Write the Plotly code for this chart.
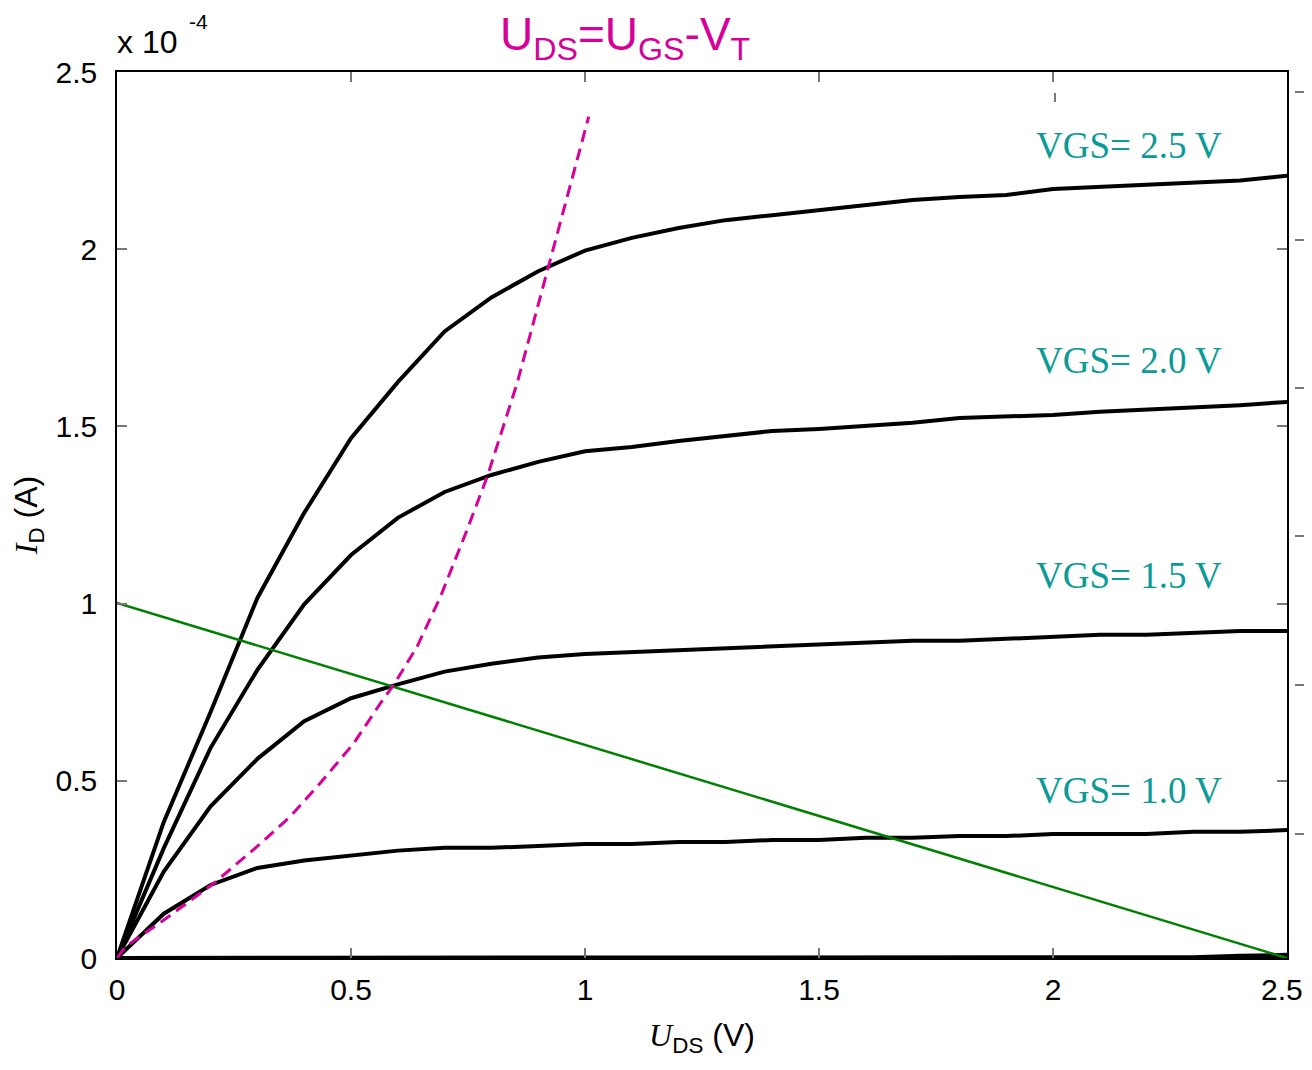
import plotly.graph_objects as go

# ---------------- data ----------------
u_ds = [0.0, 0.1, 0.2, 0.3, 0.4, 0.5, 0.6, 0.7, 0.8, 0.9, 1.0, 1.1, 1.2,
        1.3, 1.4, 1.5, 1.6, 1.7, 1.8, 1.9, 2.0, 2.1, 2.2, 2.3, 2.4, 2.5]

# drain current in units of 1e-4 A
id_vgs25 = [0.0, 0.384, 0.694, 1.016, 1.256, 1.467, 1.625, 1.768, 1.864, 1.938, 1.996,
            2.032, 2.060, 2.082, 2.096, 2.111, 2.125, 2.139, 2.147, 2.153, 2.170,
            2.176, 2.182, 2.188, 2.194, 2.207]
id_vgs20 = [0.0, 0.310, 0.593, 0.813, 0.998, 1.137, 1.242, 1.315, 1.363, 1.400, 1.430,
            1.442, 1.459, 1.473, 1.487, 1.493, 1.501, 1.510, 1.524, 1.529, 1.532,
            1.541, 1.547, 1.552, 1.560, 1.569]
id_vgs15 = [0.0, 0.244, 0.428, 0.562, 0.668, 0.733, 0.772, 0.808, 0.830, 0.848, 0.858,
            0.863, 0.868, 0.873, 0.878, 0.883, 0.889, 0.895, 0.895, 0.900, 0.906,
            0.912, 0.912, 0.917, 0.923, 0.923]
id_vgs10 = [0.0, 0.125, 0.206, 0.254, 0.275, 0.289, 0.303, 0.311, 0.311, 0.316, 0.322,
            0.322, 0.327, 0.327, 0.333, 0.333, 0.339, 0.339, 0.344, 0.344, 0.350,
            0.350, 0.350, 0.356, 0.356, 0.361]
id_vgs05 = [0.0, 0.001, 0.001, 0.001, 0.001, 0.001, 0.001, 0.001, 0.001, 0.001, 0.001,
            0.001, 0.001, 0.001, 0.001, 0.001, 0.001, 0.001, 0.001, 0.001, 0.001,
            0.001, 0.001, 0.002, 0.006, 0.009]
id_vgs00 = [0.0] * 26

# saturation boundary U_DS = U_GS - V_T (dashed)
sat_u = [0.0, 0.018, 0.100, 0.207, 0.299, 0.370, 0.434, 0.506, 0.563, 0.591, 0.641,
         0.691, 0.748, 0.791, 0.855, 0.922, 0.969, 1.008]
sat_i = [0.0, 0.032, 0.107, 0.211, 0.314, 0.399, 0.493, 0.606, 0.719, 0.770, 0.878,
         1.019, 1.208, 1.358, 1.622, 1.951, 2.186, 2.374]

# load line
load_u = [0.0, 2.5]
load_i = [1.002, 0.0]

curve_labels = ["VGS= 2.5 V", "VGS= 2.0 V", "VGS= 1.5 V", "VGS= 1.0 V"]
label_x = [2.162, 2.162, 2.162, 2.162]
label_y = [2.294, 1.687, 1.078, 0.474]

x_ticks = [0, 0.5, 1, 1.5, 2, 2.5]
x_ticktext = ["0", "0.5", "1", "1.5", "2", "2.5"]
y_ticks = [0, 0.5, 1, 1.5, 2, 2.5]
y_ticktext = ["0", "0.5", "1", "1.5", "2", "2.5"]

SCALE = 1e-4

# ---------------- geometry (figure px; page adds an 8px body margin) ----------------
OFF = 8
FW, FH = 1304, 1050
L, T, B = 117 - OFF, 72 - OFF, 958 - OFF     # plot left / top / bottom in figure px
PR = 1287 - OFF                               # plot right
PAPER_R = 1306 - OFF                          # paper right (ghost axis)
PW = PAPER_R - L
PH = B - T


def px(x_img):
    return (x_img - OFF - L) / PW


def py(y_img):
    return (B - (y_img - OFF)) / PH


fig = go.Figure()

for series in [id_vgs00, id_vgs05, id_vgs10, id_vgs15, id_vgs20, id_vgs25]:
    fig.add_trace(go.Scatter(
        x=u_ds, y=[v * SCALE for v in series], mode="lines",
        line=dict(color="black", width=4), showlegend=False, hoverinfo="skip"))

fig.add_trace(go.Scatter(
    x=load_u, y=[v * SCALE for v in load_i], mode="lines",
    line=dict(color="#008000", width=2.5), showlegend=False))

fig.add_trace(go.Scatter(
    x=sat_u, y=[v * SCALE for v in sat_i], mode="lines",
    line=dict(color="#D6009A", width=3, dash="12px,7px"), showlegend=False))

for txt, lx, ly in zip(curve_labels, label_x, label_y):
    fig.add_annotation(x=lx, y=ly * SCALE, text=txt, showarrow=False,
                       xref="x", yref="y", xanchor="center", yanchor="middle",
                       font=dict(family="Liberation Serif", size=37, color="#0A9A98"))

fig.add_annotation(x=px(625), y=py(38), xref="paper", yref="paper",
                   xanchor="center", yanchor="middle",
                   text="U<sub>DS</sub>=U<sub>GS</sub>-V<sub>T</sub>", showarrow=False,
                   font=dict(family="Liberation Sans", size=46, color="#D6009A"))

fig.add_annotation(x=px(115), y=py(42), xref="paper", yref="paper",
                   xanchor="left", yanchor="middle",
                   text="x 10", showarrow=False,
                   font=dict(family="Liberation Sans", size=32, color="black"))
fig.add_annotation(x=px(188), y=py(8.5), xref="paper", yref="paper",
                   xanchor="left", yanchor="top", borderpad=0,
                   text="-4", showarrow=False,
                   font=dict(family="Liberation Sans", size=21, color="black"))

tick_font = dict(family="Liberation Sans", size=30, color="black")

# last x tick label sits at the right edge: draw it right-aligned so it is not clipped
x_ticktext_axis = x_ticktext[:-1] + [""]
fig.add_annotation(x=x_ticks[-1], y=py(990), xref="x", yref="paper",
                   xanchor="right", yanchor="middle", xshift=17, borderpad=0,
                   text=x_ticktext[-1], showarrow=False, font=tick_font)

fig.update_layout(
    width=FW, height=FH,
    margin=dict(l=L, r=FW - PAPER_R, t=T, b=FH - B, autoexpand=False),
    paper_bgcolor="white", plot_bgcolor="white",
    xaxis=dict(
        domain=[0, (PR - L) / PW], range=[0, 2.5],
        tickvals=x_ticks, ticktext=x_ticktext_axis, tickfont=tick_font,
        ticks="inside", ticklen=10, tickcolor="#777777", tickwidth=1.5,
        ticklabelstandoff=4,
        showline=True, linecolor="black", linewidth=1.5, mirror="ticks",
        showgrid=False, zeroline=False, automargin=False,
        title=dict(
            text="<span style='font-family:Liberation Serif'><i>U</i></span><sub>DS</sub> (V)",
            font=dict(family="Liberation Sans", size=32, color="black"), standoff=20),
    ),
    yaxis=dict(
        domain=[0, 1], range=[0, 2.5 * SCALE],
        tickvals=[v * SCALE for v in y_ticks], ticktext=y_ticktext, tickfont=tick_font,
        ticks="inside", ticklen=10, tickcolor="#777777", tickwidth=1.5,
        ticklabelstandoff=12,
        showline=True, linecolor="black", linewidth=1.5, mirror="ticks",
        showgrid=False, zeroline=False, automargin=False,
        title=dict(
            text="<span style='font-family:Liberation Serif'><i>I</i></span><sub>D</sub> (A)",
            font=dict(family="Liberation Sans", size=32, color="black"), standoff=30),
    ),
    # ghost axes peeking out at the right
    yaxis2=dict(
        overlaying="y", anchor="free", position=1.0, side="right",
        range=[0, 1], tickvals=[0.1400, 0.3081, 0.4763, 0.6433, 0.8104, 0.9774],
        showticklabels=False, ticks="inside", ticklen=11, tickcolor="#777777",
        tickwidth=1.5, showline=False, showgrid=False, zeroline=False,
    ),
    xaxis2=dict(
        overlaying="x", anchor="free", position=py(92), side="top",
        domain=[0, 1], range=[0, 1], tickvals=[px(1070), 1.0],
        showticklabels=False, ticks="inside", ticklen=9, tickcolor="#777777",
        tickwidth=1.5, showline=False, showgrid=False, zeroline=False,
    ),
)

# invisible trace to activate ghost axes
fig.add_trace(go.Scatter(x=[0.5], y=[0.5], xaxis="x2", yaxis="y2", mode="markers",
                         marker=dict(opacity=0), showlegend=False, hoverinfo="skip"))

fig.write_html("out.html")
